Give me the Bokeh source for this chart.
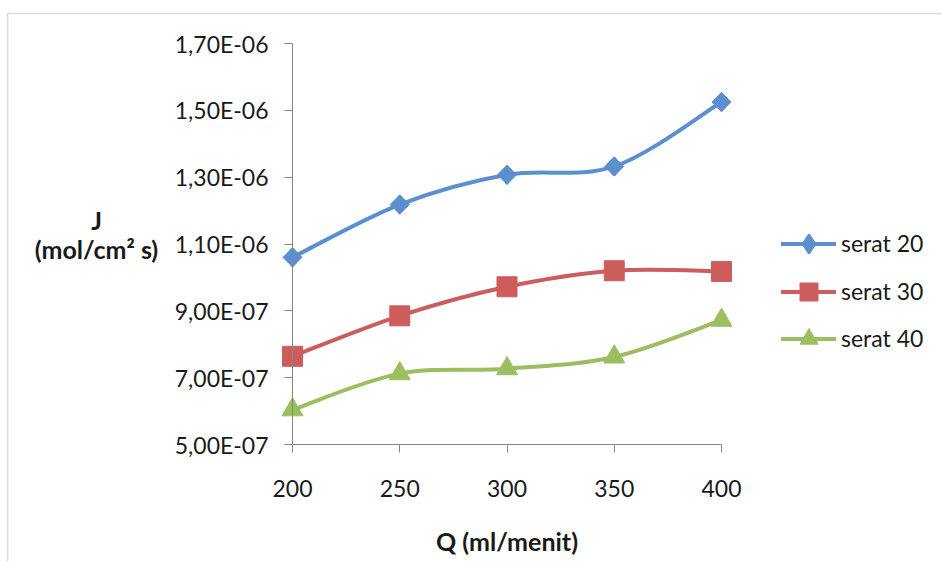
import numpy as np
from bokeh.plotting import figure
from bokeh.models import (FixedTicker, CustomJSTickFormatter, Label, Legend, LegendItem,
                          PolyAnnotation, Range1d)
from bokeh.embed import file_html
from bokeh.resources import INLINE

# ---- data ----
q = [200, 250, 300, 350, 400]
serat_20 = [1.060e-6, 1.218e-6, 1.307e-6, 1.332e-6, 1.525e-6]
serat_30 = [7.64e-7, 8.85e-7, 9.72e-7, 1.020e-6, 1.018e-6]
serat_40 = [6.04e-7, 7.12e-7, 7.27e-7, 7.62e-7, 8.72e-7]
series_names = ["serat 20", "serat 30", "serat 40"]
x_ticks = [200, 250, 300, 350, 400]
y_ticks = [5e-7, 7e-7, 9e-7, 1.1e-6, 1.3e-6, 1.5e-6, 1.7e-6]
y_tick_labels = ["5,00E-07", "7,00E-07", "9,00E-07", "1,10E-06", "1,30E-06", "1,50E-06", "1,70E-06"]
x_title = "Q (ml/menit)"
y_title_lines = ["J", "(mol/cm\u00b2 s)"]

# ---- layout (pixels in the 942x561 canvas) ----
W, H = 942, 561
X_MIN, X_MAX = 200, 400
Y_MIN, Y_MAX = 5e-7, 1.7e-6
PX_LEFT, PX_RIGHT = 292, 721      # canvas x of X_MIN / X_MAX
PX_BOTTOM, PX_TOP = 444, 43       # canvas y of Y_MIN / Y_MAX

kx = (X_MAX - X_MIN) / (PX_RIGHT - PX_LEFT)
ky = (Y_MAX - Y_MIN) / (PX_BOTTOM - PX_TOP)


def dx(px):
    return X_MIN + (px - PX_LEFT) * kx


def dy(py):
    return Y_MIN + (PX_BOTTOM - py) * ky


FONT = "Lato"
AXIS_COLOR = "#868686"
TEXT_COLOR = "#1a1a1a"
colors = ["#5b8fcf", "#cd5c5c", "#9bbf5f"]


def smooth_controls(xs, ys):
    """Cubic Bezier control points (Excel-style smoothed line) from the data."""
    n = len(xs)
    out = {k: [] for k in ("x0", "y0", "x1", "y1", "cx0", "cy0", "cx1", "cy1")}
    for i in range(n - 1):
        xp, yp = (xs[i - 1], ys[i - 1]) if i > 0 else (xs[i], ys[i])
        xn, yn = (xs[i + 2], ys[i + 2]) if i + 2 < n else (xs[i + 1], ys[i + 1])
        out["x0"].append(xs[i]); out["y0"].append(ys[i])
        out["x1"].append(xs[i + 1]); out["y1"].append(ys[i + 1])
        out["cx0"].append(xs[i] + (xs[i + 1] - xp) / 6.0)
        out["cy0"].append(ys[i] + (ys[i + 1] - yp) / 6.0)
        out["cx1"].append(xs[i + 1] - (xn - xs[i]) / 6.0)
        out["cy1"].append(ys[i + 1] - (yn - ys[i]) / 6.0)
    return out


p = figure(width=W, height=H, output_backend="svg", toolbar_location=None,
           x_range=Range1d(dx(0), dx(W)), y_range=Range1d(dy(H), dy(0)),
           min_border_left=0, min_border_right=0, min_border_top=0, min_border_bottom=0)
p.xgrid.visible = False
p.ygrid.visible = False
p.outline_line_color = None
p.background_fill_color = "white"
p.border_fill_color = "white"

for ax in (p.xaxis[0], p.yaxis[0]):
    ax.axis_line_color = AXIS_COLOR
    ax.major_tick_line_color = AXIS_COLOR
    ax.minor_tick_line_color = None
    ax.major_tick_in = 0
    ax.major_tick_out = 8
    ax.major_label_text_font = FONT
    ax.major_label_text_font_size = "23px"
    ax.major_label_text_color = TEXT_COLOR

p.xaxis.ticker = FixedTicker(ticks=x_ticks)
p.xaxis.bounds = (X_MIN, X_MAX)
p.xaxis.fixed_location = Y_MIN
p.xaxis.major_label_standoff = 27

p.yaxis.ticker = FixedTicker(ticks=y_ticks)
p.yaxis.bounds = (Y_MIN, Y_MAX)
p.yaxis.fixed_location = X_MIN
p.yaxis.formatter = CustomJSTickFormatter(args=dict(tvals=y_ticks, tlabels=y_tick_labels), code="""
let best = 0;
for (let i = 0; i < tvals.length; i++) {
  if (Math.abs(tvals[i] - tick) < Math.abs(tvals[best] - tick)) best = i;
}
return tlabels[best];
""")
p.yaxis.major_label_standoff = 16

# (marker, angle, size, legend-marker)
markers = [("square", np.pi / 4, 13.5, "diamond"), ("square", 0, 20, None), ("triangle", 0, 21, None)]
legend_glyph_h = 45
legend_centers = [243, 291, 338]
series = [serat_20, serat_30, serat_40]

for name, ys, col, (mk, ang, sz, lmk), cy in zip(series_names, series, colors, markers,
                                                   legend_centers):
    c = smooth_controls(q, ys)
    r_line = p.bezier(x0=c["x0"], y0=c["y0"], x1=c["x1"], y1=c["y1"],
                      cx0=c["cx0"], cy0=c["cy0"], cx1=c["cx1"], cy1=c["cy1"],
                      line_color=col, line_width=4, line_cap="round")
    legend_rs = [r_line]
    if lmk is not None:
        # an upright diamond hidden under each rotated-square marker; used for the legend key
        legend_rs.append(p.scatter(q, ys, marker=lmk, size=17, fill_color=col, line_color=col,
                                   line_width=2.5, line_join="round"))
    r_sc = p.scatter(q, ys, marker=mk, angle=ang, size=sz, fill_color=col, line_color=col)
    if lmk is None:
        legend_rs.append(r_sc)
    leg = Legend(items=[LegendItem(label=name, renderers=legend_rs)],
                 location=(781, H - (cy + legend_glyph_h / 2)),
                 glyph_width=55, glyph_height=legend_glyph_h, label_height=legend_glyph_h,
                 label_standoff=5, padding=0, margin=0, spacing=0,
                 border_line_color=None, background_fill_alpha=0,
                 label_text_font=FONT, label_text_font_size="23px", label_text_color=TEXT_COLOR)
    p.add_layout(leg)

# axis titles
p.add_layout(Label(x=dx(506.5), y=dy(540), text=x_title, text_align="center",
                   text_baseline="middle", text_font=FONT, text_font_size="25px",
                   text_font_style="bold", text_color=TEXT_COLOR))
for txt, yc in zip(y_title_lines, [219, 248]):
    p.add_layout(Label(x=dx(96), y=dy(yc), text=txt,
                       text_align="center", text_baseline="middle", text_font=FONT,
                       text_font_size="25px", text_font_style="bold", text_color=TEXT_COLOR))

# chart-area border (left and top edges visible)
p.add_layout(PolyAnnotation(xs=[dx(7), dx(7), dx(980), dx(980)],
                            ys=[dy(600), dy(13), dy(13), dy(600)],
                            fill_alpha=0, line_color="#8a8a8a", line_width=1.5))

open("out.html", "w").write(file_html(p, INLINE))
